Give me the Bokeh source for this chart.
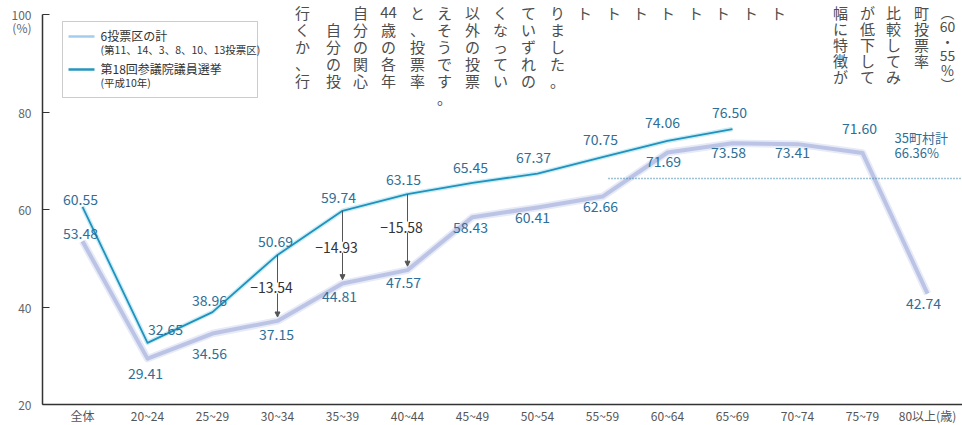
import re
from bokeh.plotting import figure
from bokeh.models import ColumnDataSource, FixedTicker, Arrow, NormalHead, Label, BoxAnnotation, Range1d
from bokeh.embed import file_html
from bokeh.resources import INLINE
from bokeh.core.properties import value

# ---------------- data ----------------
categories = ["全体", "20~24", "25~29", "30~34", "35~39", "40~44", "45~49",
              "50~54", "55~59", "60~64", "65~69", "70~74", "75~79", "80以上(歳)"]
district6 = [53.48, 29.41, 34.56, 37.15, 44.81, 47.57, 58.43, 60.41, 62.66,
             71.69, 73.58, 73.41, 71.60, 42.74]          # 6投票区の計
election18 = [60.55, 32.65, 38.96, 50.69, 59.74, 63.15, 65.45, 67.37, 70.75,
              74.06, 76.50]                              # 第18回参議院議員選挙
gap_idx = [3, 4, 5]
gap_vals = [-13.54, -14.93, -15.58]
town_total = 66.36                                       # 35町村計
y_ticks = [20, 40, 60, 80, 100]
y_unit_label = "(%)"

# ---------------- styling helpers (canvas pixel -> data) ----------------
X0, DX = 82, 65
Y100, PPU = 14, 4.875
def px2x(px):
    return (px - X0) / DX
def px2y(py):
    return 100 - (py - Y100) / PPU

FONT = "Noto Sans CJK JP"
VAL_COLOR = "#2d6f98"
PCT_Y = round(px2y(27), 2)

p = figure(frame_width=920, frame_height=404,
           x_range=Range1d(px2x(42), px2x(962)),
           y_range=Range1d(20, px2y(0)),
           output_backend="svg", toolbar_location=None,
           min_border_left=42, min_border_right=0,
           min_border_top=0, min_border_bottom=0)
p.outline_line_color = None
p.grid.visible = False
p.background_fill_color = "white"

# x axis
p.xaxis.ticker = FixedTicker(ticks=list(range(len(categories))))
p.xaxis.major_label_overrides = {i: c for i, c in enumerate(categories)}
p.xaxis.major_tick_line_color = None
p.xaxis.major_tick_in = 0
p.xaxis.major_tick_out = 0
p.xaxis.minor_tick_line_color = None
p.xaxis.minor_tick_in = 0
p.xaxis.minor_tick_out = 0
p.xaxis.axis_line_color = "#333333"
p.xaxis.axis_line_width = 1.5
p.xaxis.major_label_text_font = FONT
p.xaxis.major_label_text_font_size = "12px"
p.xaxis.major_label_text_color = "#555555"
p.xaxis.major_label_standoff = 2

# y axis: labelled ticks incl. the unit "(%)" under 100; tick marks drawn as minor ticks
p.yaxis.ticker = FixedTicker(ticks=y_ticks + [PCT_Y], minor_ticks=y_ticks)
p.yaxis.major_label_overrides = {PCT_Y: y_unit_label}
p.yaxis.bounds = (20, 100)
p.yaxis.major_tick_line_color = None
p.yaxis.major_tick_in = 0
p.yaxis.major_tick_out = 0
p.yaxis.minor_tick_in = 7
p.yaxis.minor_tick_out = 0
p.yaxis.minor_tick_line_color = "#333333"
p.yaxis.minor_tick_line_width = 1.2
p.yaxis.axis_line_color = "#333333"
p.yaxis.axis_line_width = 1.5
p.yaxis.major_label_text_font = FONT
p.yaxis.major_label_text_font_size = "12px"
p.yaxis.major_label_text_color = "#666666"
p.yaxis.major_label_standoff = 11

# lines
idx1 = list(range(len(district6)))
idx2 = list(range(len(election18)))
p.line(idx1, district6, line_width=7.5, color="#e7eaf7", line_join="round")
p.line(idx1, district6, line_width=4, color="#bcc4e6", line_join="round")
p.line(idx2, election18, line_width=4.5, color="#cbecf6", line_join="round")
p.line(idx2, election18, line_width=1.8, color="#1f93bd", line_join="round")

# 35町村計 dotted reference
p.segment(x0=[px2x(608)], y0=[town_total], x1=[px2x(962)], y1=[town_total],
          line_dash="1 2", line_color="#3d87a8", line_width=1.3)
p.text(x=[px2x(894), px2x(894)], y=[town_total, town_total],
       text=["35町村計", f"{town_total:.2f}%"], y_offset=[-41, -26],
       text_align="left", text_baseline="middle", text_font=value(FONT),
       text_font_size="13px", text_color=VAL_COLOR)

# value labels
off1x = [-2, -2, -3, -1, -3, -4, -2, -5, -2, -4, -4, -5, -3, -4]
off1y = [-8, 15, 20, 14, 13, 12, 10, 10, 10, 9, 9, 8, -24, 10]
off2x = [-2, 18, -3, -2, -4, -4, -2, -4, -2, -5, -3]
off2y = [-7, -13, -12, -13, -13, -15, -15, -16, -18, -18, -17]
src1 = ColumnDataSource(dict(x=idx1, y=district6, t=[f"{v:.2f}" for v in district6],
                             xo=off1x, yo=off1y))
src2 = ColumnDataSource(dict(x=idx2, y=election18, t=[f"{v:.2f}" for v in election18],
                             xo=off2x, yo=off2y))
for src in (src1, src2):
    p.text(x="x", y="y", text="t", x_offset="xo", y_offset="yo", source=src,
           text_align="center", text_baseline="middle", text_font=value(FONT),
           text_font_size="14px", text_color=VAL_COLOR)

# gap arrows
gap_dy = [0, 0, 5]
for i, v, dy in zip(gap_idx, gap_vals, gap_dy):
    p.add_layout(Arrow(end=NormalHead(size=5, fill_color="#555555", line_color="#555555"),
                       x_start=i, y_start=election18[i], x_end=i, y_end=district6[i] + 0.8,
                       line_color="#555555", line_width=1))
    p.add_layout(Label(x=i, y=(election18[i] + district6[i]) / 2, x_offset=-6,
                       y_offset=dy, text=f"−{abs(v):.2f}",
                       text_align="center", text_baseline="middle", text_font=FONT,
                       text_font_size="14px", text_color="#333333",
                       background_fill_color="white"))

# legend
p.add_layout(BoxAnnotation(left=px2x(62), right=px2x(257), top=px2y(21), bottom=px2y(97),
                           fill_color="white", fill_alpha=1, line_color="#555555",
                           line_width=1, level="underlay"))
p.segment(x0=[px2x(68), px2x(68)], y0=[px2y(36), px2y(69)],
          x1=[px2x(94), px2x(94)], y1=[px2y(36), px2y(69)],
          line_color=["#a3cdee", "#2596bd"], line_width=2.5)
p.text(x=[px2x(100)] * 2, y=[px2y(35), px2y(68)],
       text=["6投票区の計", "第18回参議院議員選挙"],
       text_align="left", text_baseline="middle", text_font=value(FONT),
       text_font_size="12px", text_color="#333333")
p.text(x=[px2x(100)] * 2, y=[px2y(49), px2y(82)],
       text=["(第11、14、3、8、10、13投票区)", "(平成10年)"],
       text_align="left", text_baseline="middle", text_font=value(FONT),
       text_font_size="10.5px", text_color="#333333")

# show-through text of the printed page (vertical columns, one glyph per row)
# (x, first row y, row step, text, font size)
page_cols = [
    (302, 12, 17, "行くか、行", 15), (333, 12, 17, "　自分の投", 15),
    (360, 12, 17, "自分の関心", 15), (388, 12, 17, "44歳の各年", 15),
    (417, 12, 17, "と、投票率", 15), (444, 12, 17, "えそうです。", 15),
    (472, 12, 17, "以外の投票", 15), (500, 12, 17, "くなってい", 15),
    (528, 12, 17, "ていずれの", 15), (557, 12, 17, "りました。", 15),
    (584, 12, 17, "ト", 15), (613, 12, 17, "ト", 15), (640, 12, 17, "ト", 15),
    (667, 12, 17, "ト", 15), (695, 12, 17, "ト", 15), (722, 12, 17, "ト", 15),
    (750, 12, 17, "ト", 15), (778, 12, 17, "ト", 15),
    (840, 12, 16, "幅に特徴が", 15), (867, 12, 16, "が低下して", 15),
    (893, 12, 16, "比較してみ", 15), (921, 12, 16, "町投票率", 15),
    (947, 11, 14.5, "︵60・55%︶", 14),
]
gx, gy, gt, gs = [], [], [], []
for cx, y0, step, t, fs in page_cols:
    for k, ch in enumerate(re.findall(r"\d+|.", t)):
        if ch.strip() == "" or ch == "　":
            continue
        gx.append(px2x(cx))
        gy.append(px2y(y0 + k * step))
        gt.append(ch)
        gs.append(f"{fs}px")
p.text(x=gx, y=gy, text=gt, text_font_size=gs,
       text_align="center", text_baseline="middle", text_font=value(FONT),
       text_color="#4d4d4d")

open("out.html", "w").write(file_html(p, INLINE))
